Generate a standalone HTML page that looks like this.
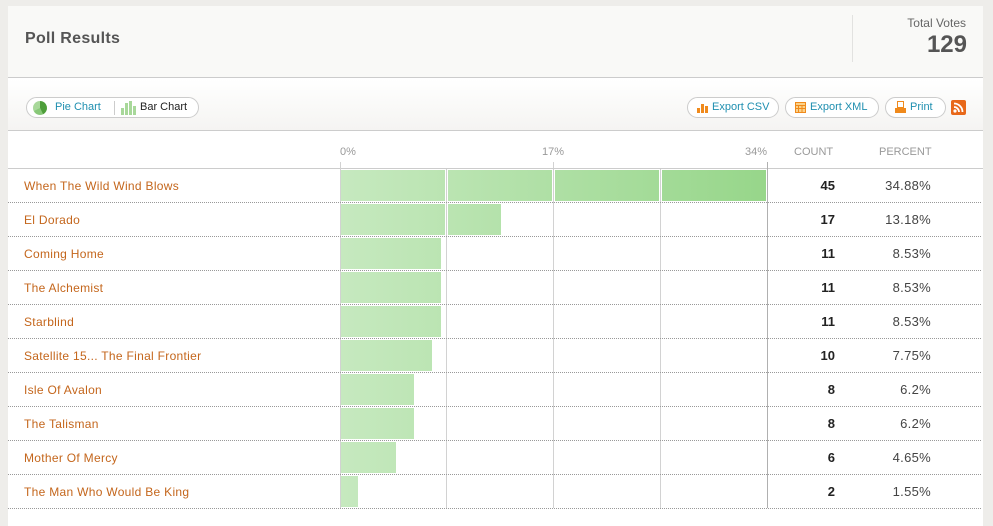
<!DOCTYPE html>
<html><head><meta charset="utf-8"><style>
*{margin:0;padding:0;box-sizing:border-box}
body{width:993px;height:516px;background:#eeedea;font-family:"Liberation Sans",sans-serif;position:relative;overflow:hidden}
.a{position:absolute;white-space:nowrap}
#panel{position:absolute;left:8px;top:6px;width:975px;height:520px;background:#fff}
#hdr{position:absolute;left:8px;top:6px;width:975px;height:72px;background:#f9f9f7;border-bottom:1px solid #ccc}
#tb{position:absolute;left:8px;top:79px;width:975px;height:52px;background:linear-gradient(#fff,#f5f4f2);border-bottom:1px solid #ccc}
.btn{position:absolute;top:97px;height:21px;border:1px solid #ccc;border-radius:11px;background:#fff;font-size:11px;color:#1f8fb0;line-height:19px}
.lbl{font-size:12px;letter-spacing:0.3px;color:#c4661c;left:24px}
.cnt{font-size:13px;font-weight:bold;color:#222;right:158px;text-align:right}
.pct{font-size:13px;letter-spacing:0.3px;color:#444;right:62px;text-align:right}
.hd{font-size:11px;color:#999;top:146px}
</style></head><body>
<div id="panel"></div>
<div id="hdr"></div>
<div class="a" style="left:25px;top:30px;font-size:16px;font-weight:bold;color:#555;letter-spacing:0.3px">Poll Results</div>
<div class="a" style="left:852px;top:15px;width:1px;height:47px;background:#e2e2e0"></div>
<div class="a" style="right:27px;top:16px;font-size:12px;color:#666">Total Votes</div>
<div class="a" style="right:26px;top:31px;font-size:24px;font-weight:bold;color:#555">129</div>
<div id="tb"></div>
<div class="btn" style="left:26px;width:173px">
 <svg class="a" style="left:5px;top:2px" width="16" height="16" viewBox="0 0 16 16"><circle cx="8" cy="8" r="7" fill="#a8d89a"/><path d="M8 8 L8 1 A7 7 0 0 1 11 14.3Z" fill="#4e9e3a"/><path d="M8 8 L11 14.3 A7 7 0 0 1 2 11Z" fill="#88c878"/></svg>
 <span class="a" style="left:28px;top:0">Pie Chart</span>
 <span class="a" style="left:87px;top:3px;width:1px;height:14px;background:#ccc"></span>
 <svg class="a" style="left:94px;top:3px" width="16" height="14"><rect x="0" y="7" width="3" height="7" fill="#a8d89a"/><rect x="4" y="2" width="3" height="12" fill="#a8d89a"/><rect x="8" y="0" width="3" height="14" fill="#a8d89a"/><rect x="12" y="5" width="3" height="9" fill="#a8d89a"/></svg>
 <span class="a" style="left:113px;top:0;color:#222">Bar Chart</span>
</div>
<div class="btn" style="left:687px;width:92px"><svg class="a" style="left:9px;top:4px" width="11" height="11"><rect x="0" y="6" width="3" height="5" fill="#f08a1c"/><rect x="4" y="2" width="3" height="9" fill="#f08a1c"/><rect x="8" y="4" width="3" height="7" fill="#f08a1c"/></svg><span class="a" style="left:24px;top:0">Export CSV</span></div>
<div class="btn" style="left:785px;width:94px"><svg class="a" style="left:9px;top:4px" width="11" height="11"><rect x="0.5" y="0.5" width="10" height="10" fill="#fbd28a" stroke="#f08a1c"/><path d="M0 3.5H11M0 6.5H11M3.5 3V11M7 3V11" stroke="#f08a1c"/></svg><span class="a" style="left:24px;top:0">Export XML</span></div>
<div class="btn" style="left:885px;width:61px"><svg class="a" style="left:9px;top:3px" width="11" height="12"><rect x="2.5" y="0.5" width="6" height="6" fill="#fff" stroke="#f08a1c"/><rect x="0" y="7" width="11" height="5" fill="#f08a1c"/></svg><span class="a" style="left:24px;top:0">Print</span></div>
<svg class="a" style="left:951px;top:100px" width="15" height="15"><rect width="15" height="15" rx="2" fill="#e8681a"/><circle cx="4" cy="11" r="1.6" fill="#fff"/><path d="M3 7A5 5 0 0 1 8 12M3 3.5A8.5 8.5 0 0 1 11.5 12" stroke="#fff" stroke-width="1.8" fill="none"/></svg>

<div class="a hd" style="left:340px">0%</div>
<div class="a hd" style="left:542px">17%</div>
<div class="a hd" style="left:745px">34%</div>
<div class="a hd" style="left:794px">COUNT</div>
<div class="a hd" style="left:879px">PERCENT</div>

<svg class="a" style="left:0;top:0" width="993" height="516">
<defs><linearGradient id="g" gradientUnits="userSpaceOnUse" x1="341" x2="766"><stop offset="0" stop-color="#c6e9bf"/><stop offset="1" stop-color="#97d68a"/></linearGradient>
<clipPath id="c"><rect x="341" y="0" width="104" height="516"/><rect x="448" y="0" width="104" height="516"/><rect x="555" y="0" width="104" height="516"/><rect x="662" y="0" width="104" height="516"/></clipPath></defs>
<line x1="8" y1="168.5" x2="983" y2="168.5" stroke="#ccc"/>
<g stroke="#d2d2d2"><line x1="340.5" y1="162" x2="340.5" y2="508"/><line x1="553.5" y1="162" x2="553.5" y2="168"/><line x1="446.5" y1="169" x2="446.5" y2="508"/><line x1="553.5" y1="169" x2="553.5" y2="508"/><line x1="660.5" y1="169" x2="660.5" y2="508"/></g>
<line x1="767.5" y1="162" x2="767.5" y2="508" stroke="#b0b0b0"/>
<g clip-path="url(#c)" fill="url(#g)">
<rect x="341" y="170" width="425" height="31"/>
<rect x="341" y="204" width="160" height="31"/>
<rect x="341" y="238" width="100" height="31"/>
<rect x="341" y="272" width="100" height="31"/>
<rect x="341" y="306" width="100" height="31"/>
<rect x="341" y="340" width="91" height="31"/>
<rect x="341" y="374" width="73" height="31"/>
<rect x="341" y="408" width="73" height="31"/>
<rect x="341" y="442" width="55" height="31"/>
<rect x="341" y="476" width="17" height="31"/>
</g>
<g stroke="#999" stroke-dasharray="1,1">
<line x1="8" y1="202.5" x2="981" y2="202.5"/><line x1="8" y1="236.5" x2="981" y2="236.5"/><line x1="8" y1="270.5" x2="981" y2="270.5"/><line x1="8" y1="304.5" x2="981" y2="304.5"/><line x1="8" y1="338.5" x2="981" y2="338.5"/><line x1="8" y1="372.5" x2="981" y2="372.5"/><line x1="8" y1="406.5" x2="981" y2="406.5"/><line x1="8" y1="440.5" x2="981" y2="440.5"/><line x1="8" y1="474.5" x2="981" y2="474.5"/><line x1="8" y1="508.5" x2="981" y2="508.5"/>
</g>
</svg>

<div class="a lbl" style="top:179px">When The Wild Wind Blows</div><div class="a cnt" style="top:178px">45</div><div class="a pct" style="top:178px">34.88%</div>
<div class="a lbl" style="top:213px">El Dorado</div><div class="a cnt" style="top:212px">17</div><div class="a pct" style="top:212px">13.18%</div>
<div class="a lbl" style="top:247px">Coming Home</div><div class="a cnt" style="top:246px">11</div><div class="a pct" style="top:246px">8.53%</div>
<div class="a lbl" style="top:281px">The Alchemist</div><div class="a cnt" style="top:280px">11</div><div class="a pct" style="top:280px">8.53%</div>
<div class="a lbl" style="top:315px">Starblind</div><div class="a cnt" style="top:314px">11</div><div class="a pct" style="top:314px">8.53%</div>
<div class="a lbl" style="top:349px">Satellite 15... The Final Frontier</div><div class="a cnt" style="top:348px">10</div><div class="a pct" style="top:348px">7.75%</div>
<div class="a lbl" style="top:383px">Isle Of Avalon</div><div class="a cnt" style="top:382px">8</div><div class="a pct" style="top:382px">6.2%</div>
<div class="a lbl" style="top:417px">The Talisman</div><div class="a cnt" style="top:416px">8</div><div class="a pct" style="top:416px">6.2%</div>
<div class="a lbl" style="top:451px">Mother Of Mercy</div><div class="a cnt" style="top:450px">6</div><div class="a pct" style="top:450px">4.65%</div>
<div class="a lbl" style="top:485px">The Man Who Would Be King</div><div class="a cnt" style="top:484px">2</div><div class="a pct" style="top:484px">1.55%</div>
</body></html>
